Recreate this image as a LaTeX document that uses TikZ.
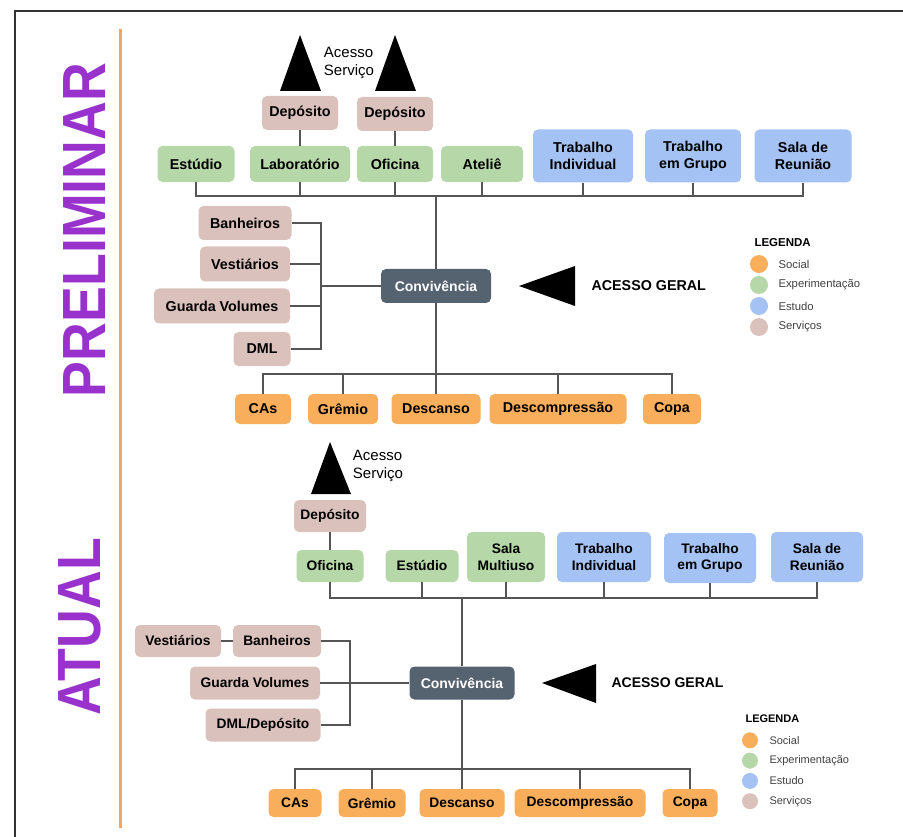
\documentclass[tikz,border=0pt]{standalone}
\usepackage{fontspec}
\setmainfont{Liberation Sans}
\definecolor{social}{HTML}{F9AE5B}
\definecolor{experim}{HTML}{B6D7A8}
\definecolor{estudo}{HTML}{A4C2F4}
\definecolor{servico}{HTML}{DBC1BC}
\definecolor{slate}{HTML}{55626F}
\definecolor{titlepurple}{HTML}{9932CC}
\definecolor{rule}{HTML}{F6A461}
\definecolor{wirec}{HTML}{555555}

\begin{document}
\begin{tikzpicture}[x=1pt, y=-1pt,
  room/.style={rounded corners=5pt, inner sep=0pt, align=center,
               font=\fontsize{14.3}{17}\selectfont\bfseries},
  sz/.style 2 args={minimum width=#1pt, minimum height=#2pt},
  soci/.style={room, fill=social},
  expe/.style={room, fill=experim},
  estu/.style={room, fill=estudo},
  serv/.style={room, fill=servico},
  conv/.style={room, fill=slate, text=white, font=\fontsize{14}{17}\selectfont\bfseries},
  wire/.style={draw=wirec, line width=1.2pt},
  arrowhd/.style={fill=black},
  acesso/.style={align=left, font=\fontsize{15}{18}\selectfont, text=black},
  geral/.style={anchor=west, font=\fontsize{14.3}{17}\selectfont\bfseries},
  legtitle/.style={anchor=west, font=\fontsize{11.5}{13}\selectfont\bfseries},
  legtext/.style={anchor=west, font=\fontsize{11.3}{13}\selectfont, text=black!75},
  title/.style={rotate=90, text=titlepurple, font=\fontsize{61}{61}\selectfont\bfseries}]
  \useasboundingbox (0,0) rectangle (903,837);

  % frame and titles
  \draw[line width=2pt, black!80] (15,837) -- (15,11) -- (903,11);
  \draw[line width=3pt, rule] (120,29) -- (120,828);
  \node[title] (tPre) at (85,230) {\scalebox{0.88}[1]{PRELIMINAR}};
  \node[title] (tAtu) at (80,627) {\scalebox{0.88}[1]{ATUAL}};

  % ---------- PRELIMINAR ----------
  \fill[arrowhd] (280,91) -- (300,35) -- (321,91) -- cycle;
  \fill[arrowhd] (375,91) -- (395,35) -- (416,91) -- cycle;
  \node[acesso] (pAcS) at (349,63) {Acesso\\Serviço};

  \node[serv, sz={76}{34}] (pDep1) at (300,113) {Depósito};
  \node[serv, sz={76}{34}] (pDep2) at (395,114) {Depósito};
  \node[expe, sz={77}{36}] (pEst) at (196,164) {Estúdio};
  \node[expe, sz={100}{36}] (pLab) at (300,164) {Laboratório};
  \node[expe, sz={76}{36}] (pOfi) at (395,164) {Oficina};
  \node[expe, sz={82}{36}] (pAte) at (482,164) {Ateliê};
  \node[estu, sz={100}{53}] (pTInd) at (583,156) {Trabalho\\Individual};
  \node[estu, sz={96}{53}] (pTGru) at (693,156) {Trabalho\\em Grupo};
  \node[estu, sz={97}{53}] (pReu) at (803,156) {Sala de\\Reunião};

  \node[serv, sz={93}{34}] (pBan) at (245,223) {Banheiros};
  \node[serv, sz={90}{35}] (pVes) at (245,264) {Vestiários};
  \node[serv, sz={136}{35}] (pGua) at (222,306) {Guarda Volumes};
  \node[serv, sz={57}{34}] (pDml) at (262,349) {DML};
  \node[conv, sz={110}{34}] (pConv) at (436,286) {Convivência};

  \node[soci, sz={56}{30}] (pCas) at (263,409) {CAs};
  \node[soci, sz={70}{30}] (pGre) at (343,409) {Grêmio};
  \node[soci, sz={89}{30}] (pDes) at (436,409) {Descanso};
  \node[soci, sz={137}{30}] (pDcp) at (558,409) {Descompressão};
  \node[soci, sz={58}{30}] (pCop) at (672,409) {Copa};

  \coordinate (pBusT) at (436,196);
  \coordinate (pSrv) at (321,286);
  \coordinate (pBusB) at (436,374);
  \draw[wire] (pDep1) -- (pLab);
  \draw[wire] (pDep2) -- (pOfi);
  \foreach \n in {pEst,pLab,pOfi,pAte,pTInd,pTGru,pReu}
    \draw[wire] (\n.south) |- (pBusT);
  \draw[wire] (pBusT) -- (pConv);
  \foreach \n in {pBan,pVes,pGua,pDml}
    \draw[wire] (\n.east) -| (pSrv);
  \draw[wire] (pSrv) -- (pConv);
  \foreach \n in {pCas,pGre,pDes,pDcp,pCop}
    \draw[wire] (\n.north) |- (pBusB);
  \draw[wire] (pConv) -- (pBusB);

  \fill[arrowhd] (519,286) -- (575,266) -- (575,306) -- cycle;
  \node[geral] (pGer) at (588,286) {ACESSO GERAL};

  \node[legtitle] (pLeg) at (751,243) {LEGENDA};
  \foreach \c/\t [count=\i] in {social/Social, experim/Experimentação, estudo/Estudo, servico/Serviços} {
    \fill[\c] (759,{243+21*\i}) circle[radius=9pt];
    \node[legtext] (pLeg\i) at (775,{243+21*\i}) {\t};
  }

  % ---------- ATUAL ----------
  \fill[arrowhd] (311,494) -- (330,442) -- (351,494) -- cycle;
  \node[acesso] (aAcS) at (378,466) {Acesso\\Serviço};

  \begin{scope}[room/.append style={font=\fontsize{13.8}{16.5}\selectfont\bfseries}]
  \node[serv, sz={72}{32}] (aDep) at (330,516) {Depósito};
  \node[expe, sz={67}{32}] (aOfi) at (330,566) {Oficina};
  \node[expe, sz={73}{32}] (aEst) at (422,566) {Estúdio};
  \node[expe, sz={78}{50}] (aMul) at (506,557) {Sala\\Multiuso};
  \node[estu, sz={94}{50}] (aTInd) at (604,557) {Trabalho\\Individual};
  \node[estu, sz={92}{50}] (aTGru) at (710,558) {Trabalho\\em Grupo};
  \node[estu, sz={92}{50}] (aReu) at (817,557) {Sala de\\Reunião};

  \node[serv, sz={86}{32}] (aVes) at (178,641) {Vestiários};
  \node[serv, sz={88}{32}] (aBan) at (277,641) {Banheiros};
  \node[serv, sz={130}{33}] (aGua) at (255,683) {Guarda Volumes};
  \node[serv, sz={115}{33}] (aDml) at (263,725) {DML/Depósito};
  \node[conv, sz={105}{33}] (aConv) at (462,683) {Convivência};

  \node[soci, sz={53}{28}] (aCas) at (295,803) {CAs};
  \node[soci, sz={67}{28}] (aGre) at (372,803) {Grêmio};
  \node[soci, sz={85}{28}] (aDes) at (462,803) {Descanso};
  \node[soci, sz={131}{28}] (aDcp) at (580,803) {Descompressão};
  \node[soci, sz={55}{28}] (aCop) at (690,803) {Copa};
  \end{scope}

  \coordinate (aBusT) at (462,598);
  \coordinate (aSrv) at (350,683);
  \coordinate (aBusB) at (462,769);
  \draw[wire] (aDep) -- (aOfi);
  \foreach \n in {aOfi,aEst,aMul,aTInd,aTGru,aReu}
    \draw[wire] (\n.south) |- (aBusT);
  \draw[wire] (aBusT) -- (aConv);
  \draw[wire] (aVes) -- (aBan);
  \draw[wire] (aBan.east) -| (aSrv);
  \draw[wire] (aDml.east) -| (aSrv);
  \draw[wire] (aGua) -- (aConv);
  \foreach \n in {aCas,aGre,aDes,aDcp,aCop}
    \draw[wire] (\n.north) |- (aBusB);
  \draw[wire] (aConv) -- (aBusB);

  \fill[arrowhd] (542,683) -- (596,664) -- (596,703) -- cycle;
  \node[geral, font=\fontsize{14}{17}\selectfont\bfseries] (aGer) at (608,683) {ACESSO GERAL};

  \node[legtitle, font=\fontsize{11}{13}\selectfont\bfseries] (aLeg) at (742,719) {LEGENDA};
  \foreach \c/\t [count=\i] in {social/Social, experim/Experimentação, estudo/Estudo, servico/Serviços} {
    \fill[\c] (750,{720+20.3*\i}) circle[radius=8pt];
    \node[legtext, font=\fontsize{11}{13}\selectfont] (aLeg\i) at (766,{720+20.3*\i}) {\t};
  }
\end{tikzpicture}
\end{document}
